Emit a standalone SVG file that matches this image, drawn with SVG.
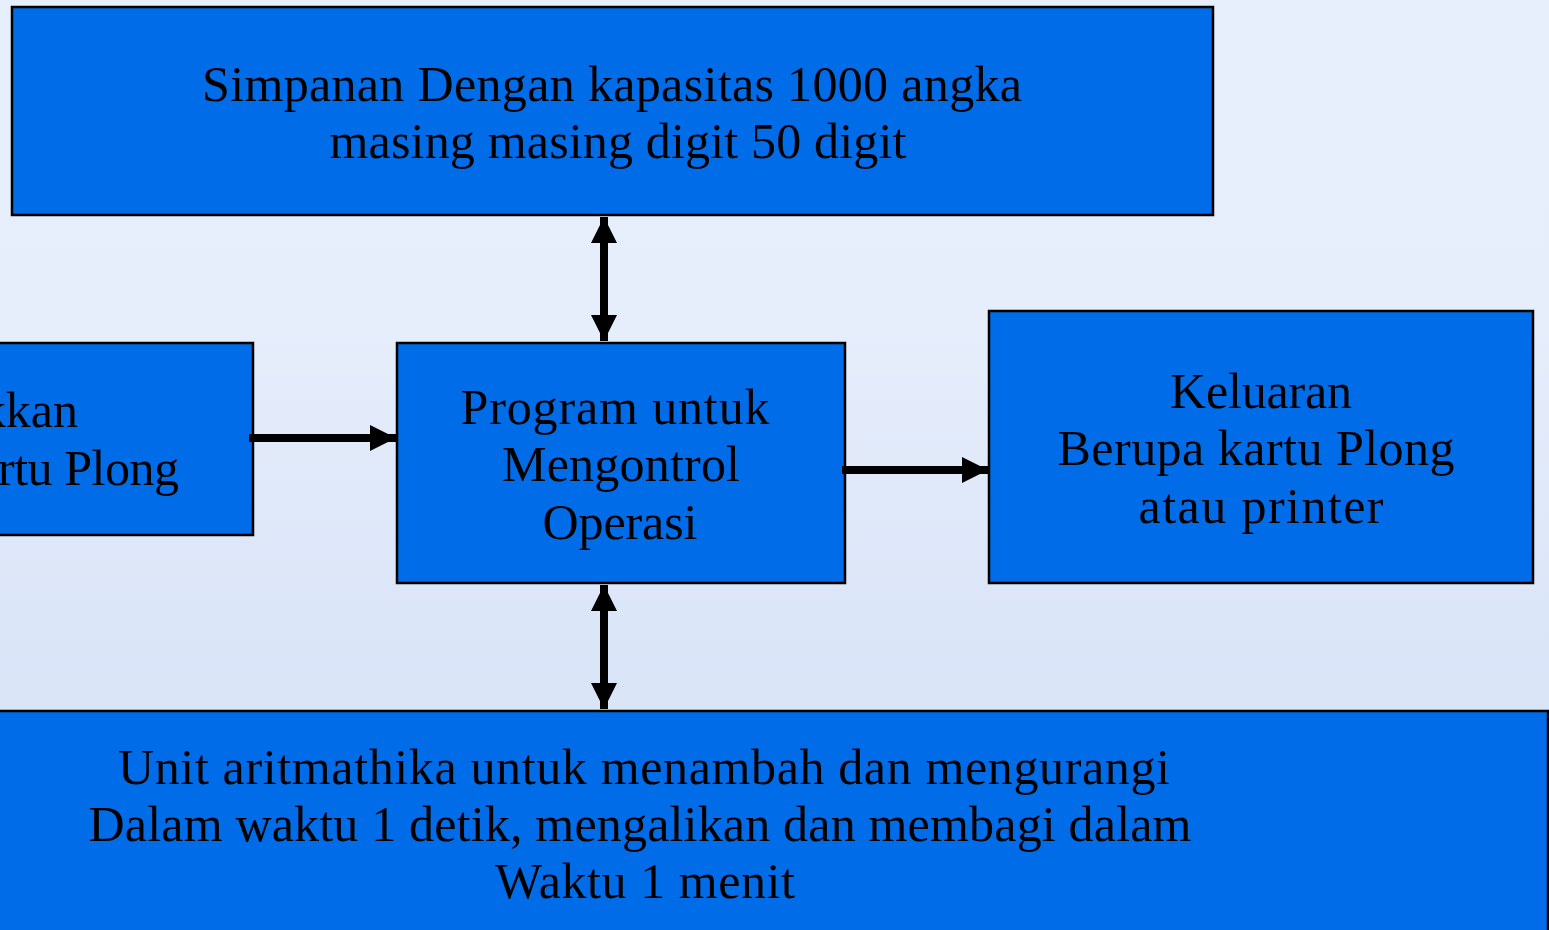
<svg xmlns="http://www.w3.org/2000/svg" width="1549" height="930" viewBox="0 0 1549 930">
<defs>
<linearGradient id="bg" x1="0" y1="0" x2="0" y2="1">
<stop offset="0" stop-color="#E7EEFC"/>
<stop offset="0.35" stop-color="#E6EDFB"/>
<stop offset="0.7" stop-color="#DAE5F8"/>
<stop offset="1" stop-color="#D6E2F6"/>
</linearGradient>
<marker id="ah" viewBox="0 0 26 26" refX="26" refY="13" markerWidth="26" markerHeight="26" markerUnits="userSpaceOnUse" orient="auto-start-reverse">
<path d="M0,0 L26,13 L0,26 Z" fill="#000"/>
</marker>
<style>
.box{fill:#006CE8;stroke:#000;stroke-width:2.5}
.t{font-family:"Liberation Serif","DejaVu Serif",serif;font-size:50px;fill:#000;text-anchor:middle}
.c{stroke:#000;stroke-width:8;fill:none}
</style>
</defs>
<rect x="0" y="0" width="1549" height="930" fill="url(#bg)"/>

<g id="node-simpanan">
<rect class="box" x="12" y="7" width="1201" height="208"/>
<text class="t" x="612" y="101" textLength="820" lengthAdjust="spacing">Simpanan Dengan kapasitas 1000 angka</text>
<text class="t" x="618" y="158" textLength="577" lengthAdjust="spacing">masing masing digit 50 digit</text>
</g>

<g id="node-masukan">
<rect class="box" x="-10" y="343" width="263" height="192"/>
<text class="t" x="78" y="427" style="text-anchor:end">kkan</text>
<text class="t" x="179" y="485" style="text-anchor:end" textLength="181" lengthAdjust="spacing">rtu Plong</text>
</g>

<g id="node-program">
<rect class="box" x="397" y="343" width="448" height="240"/>
<text class="t" x="615" y="424" textLength="309" lengthAdjust="spacing">Program untuk</text>
<text class="t" x="621" y="481" textLength="238" lengthAdjust="spacing">Mengontrol</text>
<text class="t" x="620" y="539" textLength="155" lengthAdjust="spacing">Operasi</text>
</g>

<g id="node-keluaran">
<rect class="box" x="989" y="311" width="544" height="272"/>
<text class="t" x="1261" y="408" textLength="182" lengthAdjust="spacing">Keluaran</text>
<text class="t" x="1256" y="465" textLength="397" lengthAdjust="spacing">Berupa kartu Plong</text>
<text class="t" x="1261" y="523" textLength="245" lengthAdjust="spacing">atau printer</text>
</g>

<g id="node-aritmatika">
<rect class="box" x="-10" y="711" width="1558" height="240"/>
<text class="t" x="644" y="784" textLength="1052" lengthAdjust="spacing">Unit aritmathika untuk menambah dan mengurangi</text>
<text class="t" x="640" y="841" textLength="1103" lengthAdjust="spacing">Dalam waktu 1 detik, mengalikan dan membagi dalam</text>
<text class="t" x="645" y="898" textLength="300" lengthAdjust="spacing">Waktu 1 menit</text>
</g>

<g id="connectors">
<line class="c" x1="604" y1="217" x2="604" y2="341" marker-start="url(#ah)" marker-end="url(#ah)"/>
<line class="c" x1="249" y1="438" x2="396" y2="438" marker-end="url(#ah)"/>
<line class="c" x1="842" y1="470" x2="988" y2="470" marker-end="url(#ah)"/>
<line class="c" x1="604" y1="585" x2="604" y2="709" marker-start="url(#ah)" marker-end="url(#ah)"/>
</g>
</svg>
